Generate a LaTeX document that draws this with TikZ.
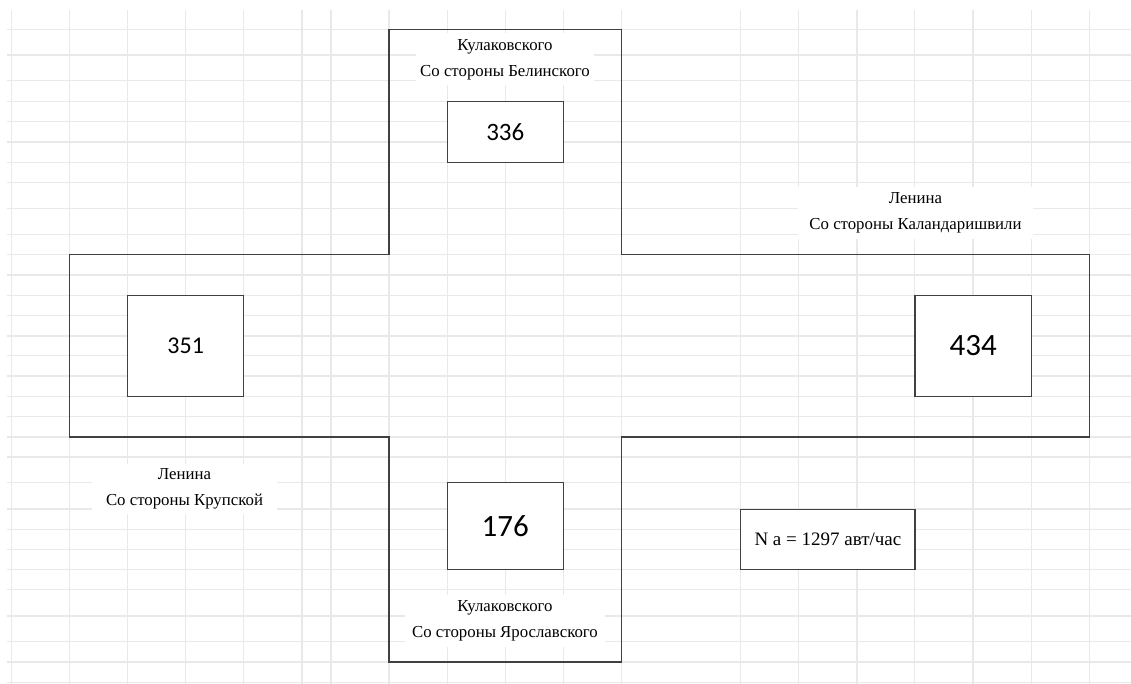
\documentclass[tikz,border=0pt]{standalone}
\usepackage{fontspec}
\setmainfont{Liberation Serif}
\newfontfamily\numfont{Carlito}
\definecolor{gridgray}{HTML}{E9E9E9}
\definecolor{roadgray}{HTML}{404040}
\tikzset{
  gridline/.style={draw=gridgray, line width=1.2bp},
  road/.style={draw=roadgray, line width=1.5bp},
  countbox/.style={draw=roadgray, line width=1.4bp, fill=white, inner sep=0pt, font=\numfont},
  labelbox/.style={fill=white, inner sep=0pt, align=center, font=\fontsize{16.8bp}{26bp}\selectfont},
  totalbox/.style={draw=roadgray, line width=1.4bp, fill=white, inner sep=0pt, font=\fontsize{19bp}{22bp}\selectfont}
}
\begin{document}
\begin{tikzpicture}[x=1bp, y=-1bp]
\useasboundingbox (0,0) rectangle (1131,684);
\fill[white] (0,0) rectangle (1131,684);
% spreadsheet grid
\foreach \yy in {29.3,55,80.7,101.3,121.7,142,162.3,182.7,208.3,234.3,254.7,275,295.3,315.3,336,355.7,376,396.3,416.7,437,457,482.7,509,529.3,549.3,569.7,589.7,616,641.7,662,682.7}
  \draw[gridline] (7,\yy) -- (1131,\yy);
\foreach \xx in {11.7,69.7,127.7,185.7,243.7,302,331,389,447.3,505.3,563.3,621.7,740.7,798.7,857,914.7,973,1031.3,1089.5}
  \draw[gridline] (\xx,10) -- (\xx,684);
% intersection outline
\draw[road] (389,29.3) -- (621.7,29.3) -- (621.7,254.7) -- (1089.5,254.7) -- (1089.5,437)
  -- (621.7,437) -- (621.7,662) -- (389,662) -- (389,437) -- (69.7,437) -- (69.7,254.7)
  -- (389,254.7) -- cycle;
% street labels
\node[labelbox, minimum width=178bp, minimum height=52bp] (ltop) at (505,59.5) {Кулаковского\\Со стороны Белинского};
\node[labelbox, minimum width=235bp, minimum height=52bp] (lright) at (915.5,213) {Ленина\\Со стороны Каландаришвили};
\node[labelbox, minimum width=185bp, minimum height=50bp] (lleft) at (184.5,488.5) {Ленина\\Со стороны Крупской};
\node[labelbox, minimum width=200bp, minimum height=52bp] (lbottom) at (505,620.5) {Кулаковского\\Со стороны Ярославского};
% counts
\node[countbox, minimum width=116bp, minimum height=61bp, font=\numfont\fontsize{25bp}{28bp}\selectfont] (n336) at (505.3,131.8) {336};
\node[countbox, minimum width=116bp, minimum height=101bp, font=\numfont\fontsize{24bp}{28bp}\selectfont] (n351) at (185.7,345.8) {351};
\node[countbox, minimum width=116.3bp, minimum height=101bp, font=\numfont\fontsize{31bp}{34bp}\selectfont] (n434) at (973.2,345.8) {434};
\node[countbox, minimum width=116bp, minimum height=87bp, font=\numfont\fontsize{31bp}{34bp}\selectfont] (n176) at (505.3,526.2) {176};
\node[totalbox, minimum width=174.3bp, minimum height=60.4bp] (ntotal) at (827.9,539.5) {N a = 1297 авт/час};
\end{tikzpicture}
\end{document}
